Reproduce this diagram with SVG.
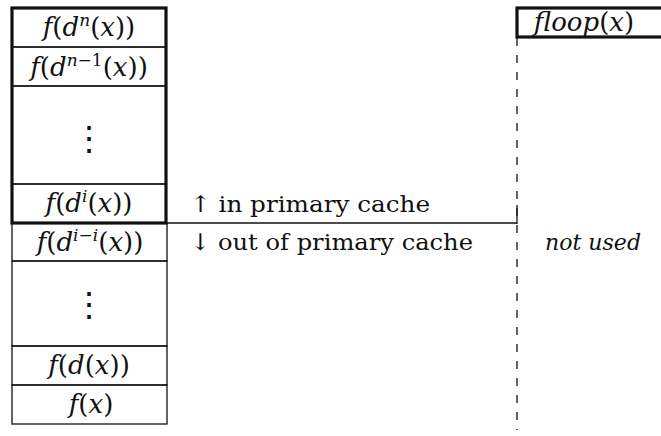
<svg xmlns="http://www.w3.org/2000/svg" width="661" height="436" viewBox="0 0 661 436">
<style>
.cell{fill:none;stroke:#111;stroke-width:1.3}
.thick{fill:none;stroke:#111;stroke-width:3.2}
.t{font-family:"DejaVu Serif","Liberation Serif",serif;font-size:26px;fill:#111;text-anchor:middle}
.dots{font-size:34px}
.i{font-style:italic}
.sup{font-size:17px}
.lbl{font-family:"DejaVu Serif","Liberation Serif",serif;font-size:23px;fill:#111}
.conn{stroke:#111;stroke-width:1.3;fill:none}
.dash{stroke:#111;stroke-width:1.3;fill:none;stroke-dasharray:8 9}
</style>
<rect width="661" height="436" fill="#fff"/>
<g id="connectors">
<line class="conn" x1="166" y1="223" x2="517" y2="223"/>
<line class="conn" x1="517" y1="205" x2="517" y2="224"/>
<line class="dash" x1="517" y1="38" x2="517" y2="430"/>
</g>
<g id="cell-dn">
<rect class="cell" x="12" y="8" width="154" height="39"/>
<text class="t" x="89" y="36"><tspan class="i">f</tspan>(<tspan class="i">d</tspan><tspan class="i sup" dy="-10">n</tspan><tspan dy="10">(</tspan><tspan class="i">x</tspan>))</text>
</g>
<g id="cell-dn1">
<rect class="cell" x="12" y="47" width="154" height="39"/>
<text class="t" x="89" y="76"><tspan class="i">f</tspan>(<tspan class="i">d</tspan><tspan class="sup" dy="-10"><tspan class="i">n</tspan>−1</tspan><tspan dy="10">(</tspan><tspan class="i">x</tspan>))</text>
</g>
<g id="cell-dots-upper">
<rect class="cell" x="12" y="86" width="154" height="98"/>
<text class="t dots" x="89" y="150">⋮</text>
</g>
<g id="cell-di">
<rect class="cell" x="12" y="184" width="154" height="39"/>
<text class="t" x="89" y="212"><tspan class="i">f</tspan>(<tspan class="i">d</tspan><tspan class="i sup" dy="-10">i</tspan><tspan dy="10">(</tspan><tspan class="i">x</tspan>))</text>
</g>
<g id="primary-cache">
<rect class="thick" x="12" y="8" width="154" height="215"/>
</g>
<g id="cell-dii">
<rect class="cell" x="12" y="223" width="155" height="38"/>
<text class="t" x="90" y="251"><tspan class="i">f</tspan>(<tspan class="i">d</tspan><tspan class="sup" dy="-10"><tspan class="i">i</tspan>−<tspan class="i">i</tspan></tspan><tspan dy="10">(</tspan><tspan class="i">x</tspan>))</text>
</g>
<g id="cell-dots-lower">
<rect class="cell" x="12" y="261" width="155" height="85"/>
<text class="t dots" x="89" y="316">⋮</text>
</g>
<g id="cell-dx">
<rect class="cell" x="12" y="346" width="155" height="39"/>
<text class="t" x="89" y="374"><tspan class="i">f</tspan>(<tspan class="i">d</tspan>(<tspan class="i">x</tspan>))</text>
</g>
<g id="cell-x">
<rect class="cell" x="12" y="385" width="155" height="39"/>
<text class="t" x="91" y="413"><tspan class="i">f</tspan>(<tspan class="i">x</tspan>)</text>
</g>
<g id="floop">
<rect class="thick" x="517" y="8" width="160" height="29"/>
<text class="t" x="584" y="31"><tspan class="i">floop</tspan>(<tspan class="i">x</tspan>)</text>
</g>
<g id="label-in">
<text class="lbl" x="190" y="212" textLength="240" lengthAdjust="spacingAndGlyphs">↑ in primary cache</text>
</g>
<g id="label-out">
<text class="lbl" x="190" y="250" textLength="283" lengthAdjust="spacingAndGlyphs">↓ out of primary cache</text>
</g>
<g id="label-notused">
<text class="lbl i" x="545" y="250" textLength="96" lengthAdjust="spacingAndGlyphs">not used</text>
</g>
</svg>
